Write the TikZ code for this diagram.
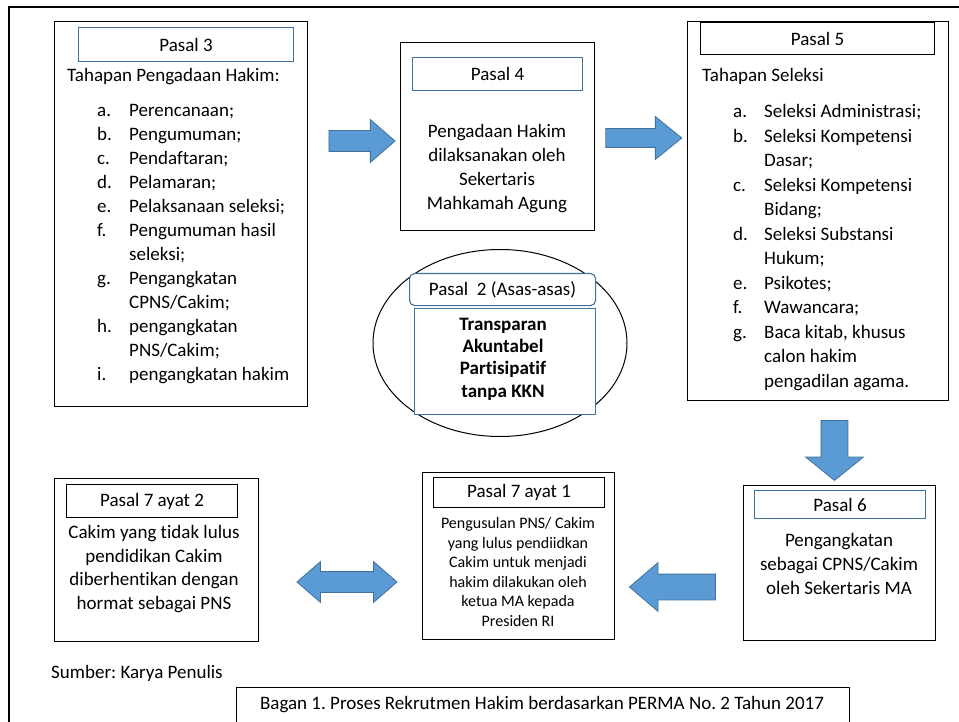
\documentclass[tikz,border=0pt]{standalone}
\usepackage{fontspec}
\setmainfont{Carlito}[Ligatures=NoCommon]
\usetikzlibrary{shapes.arrows,shapes.geometric,positioning}
\definecolor{boxblue}{RGB}{65,113,156}
\definecolor{arrowfill}{RGB}{91,155,213}
\frenchspacing

\begin{document}
\begin{tikzpicture}[x=1pt,y=-1pt,font=\fontsize{19}{24}\selectfont]
        \tikzstyle{outerblock}=[rectangle, draw, line width=1.3pt, inner sep=0pt, anchor=north west]
        \tikzstyle{titleblock}=[rectangle, draw, line width=1.1pt, inner sep=0pt, anchor=north west]
        \tikzstyle{titleblue}=[titleblock, draw=boxblue]
        \tikzstyle{fatarrow}=[single arrow, draw=boxblue, fill=arrowfill, line width=0.8pt, inner xsep=0pt]
        \useasboundingbox (0,0) rectangle (959,722);
        \clip (0,0) rectangle (959,722);
        \draw[line width=1.5pt] (9,7) rectangle (990,760);
        % Pasal 3
        \node[outerblock, minimum width=253pt, minimum height=385pt] (p3) at (54,21) {};
        \node[titleblue, minimum width=215pt, minimum height=34pt] (p3t) at (78,27) {Pasal 3};
        \node[anchor=base west, inner sep=0pt] (p3h) at (67,82) {Tahapan Pengadaan Hakim:};
        \node[anchor=base west, inner sep=0pt] (p3list) at (97,117) {\begin{tabular}[t]{@{}p{32pt}@{}l@{}}
            a. & Perencanaan;\\
            b. & Pengumuman;\\
            c. & Pendaftaran;\\
            d. & Pelamaran;\\
            e. & Pelaksanaan seleksi;\\
            f. & Pengumuman hasil\\
               & seleksi;\\
            g. & Pengangkatan\\
               & CPNS/Cakim;\\
            h. & pengangkatan\\
               & PNS/Cakim;\\
            i. & pengangkatan hakim
          \end{tabular}};
        % Pasal 4
        \node[outerblock, minimum width=194pt, minimum height=188pt] (p4) at (400,42) {};
        \node[titleblue, minimum width=170pt, minimum height=33pt] (p4t) at (412,57) {Pasal 4};
        \node[align=center, inner sep=0pt] (p4txt) at (497,169) {Pengadaan Hakim\\dilaksanakan oleh\\Sekertaris\\Mahkamah Agung};
        % Pasal 5
        \node[outerblock, minimum width=261pt, minimum height=379pt] (p5) at (687,21) {};
        \node[titleblock, minimum width=234pt, minimum height=32pt] (p5t) at (700,22) {Pasal 5};
        \node[anchor=base west, inner sep=0pt] (p5h) at (702,82) {Tahapan Seleksi};
        \node[anchor=base west, inner sep=0pt, font=\fontsize{19}{24.5}\selectfont] (p5list) at (733,118) {\begin{tabular}[t]{@{}p{31pt}@{}l@{}}
            a. & Seleksi Administrasi;\\
            b. & Seleksi Kompetensi\\
               & Dasar;\\
            c. & Seleksi Kompetensi\\
               & Bidang;\\
            d. & Seleksi Substansi\\
               & Hukum;\\
            e. & Psikotes;\\
            f. & Wawancara;\\
            g. & Baca kitab, khusus\\
               & calon hakim\\
               & pengadilan agama.
          \end{tabular}};
        % Pasal 2
        \node[draw, ellipse, line width=1pt, inner sep=0pt, minimum width=254pt, minimum height=187pt] (asas) at (500,343) {};
        \node[titleblue, rounded corners=5pt, fill=white, minimum width=186pt, minimum height=32pt] (p2t) at (409,273) {Pasal~ 2 (Asas-asas)};
        \node[titleblue, fill=white, minimum width=181pt, minimum height=106pt] (p2) at (414,308) {};
        \node[align=center, inner sep=0pt, font=\fontsize{19}{22.3}\selectfont\bfseries] (p2txt) at (503,359) {Transparan\\Akuntabel\\Partisipatif\\tanpa KKN};
        % Pasal 6
        \node[outerblock, minimum width=192pt, minimum height=155pt] (p6) at (743,485) {};
        \node[titleblue, minimum width=171pt, minimum height=28pt] (p6t) at (754,490) {Pasal 6};
        \node[align=center, inner sep=0pt] (p6txt) at (839,564) {Pengangkatan\\sebagai CPNS/Cakim\\oleh Sekertaris MA};
        % Pasal 7 ayat 1
        \node[outerblock, minimum width=192pt, minimum height=167pt] (p71) at (422,472) {};
        \node[titleblock, minimum width=171pt, minimum height=30pt] (p71t) at (433,477) {Pasal 7 ayat 1};
        \node[align=center, inner sep=0pt, font=\fontsize{16}{19.6}\selectfont] (p71txt) at (518,572) {Pengusulan PNS/ Cakim\\yang lulus pendiidkan\\Cakim untuk menjadi\\hakim dilakukan oleh\\ketua MA kepada\\Presiden RI};
        % Pasal 7 ayat 2
        \node[outerblock, minimum width=204pt, minimum height=163pt] (p72) at (54,478) {};
        \node[titleblock, minimum width=171pt, minimum height=33pt] (p72t) at (66,484) {Pasal 7 ayat 2};
        \node[align=center, inner sep=0pt, font=\fontsize{19}{23.7}\selectfont] (p72txt) at (154,569) {Cakim yang tidak lulus\\pendidikan Cakim\\diberhentikan dengan\\hormat sebagai PNS};
        % block arrows
        \node[fatarrow, minimum height=66pt, inner ysep=10pt, single arrow head extend=11pt, single arrow tip angle=82] (a34) at (356,141) {};
        \node[fatarrow, minimum height=76pt, inner ysep=9pt, single arrow head extend=12pt, single arrow tip angle=78] (a45) at (638,138) {};
        \node[fatarrow, rotate=-90, minimum height=60pt, inner ysep=13pt, single arrow head extend=15.5pt, single arrow tip angle=102] (a56) at (834.5,445) {};
        \node[fatarrow, rotate=180, minimum height=86pt, inner ysep=12.5pt, single arrow head extend=11.5pt, single arrow tip angle=81] (a671) at (680,587) {};
        \node[double arrow, draw=boxblue, fill=arrowfill, line width=0.8pt, inner xsep=0pt, minimum height=100pt, inner ysep=10pt, double arrow head extend=10pt, double arrow tip angle=82] (a7172) at (347,582) {};
        % source and caption
        \node[anchor=west, inner sep=0pt] (src) at (51,673) {Sumber: Karya Penulis};
        \node[outerblock, line width=1.2pt, minimum width=613pt, minimum height=80pt] (capbox) at (236,687) {};
        \node[inner sep=0pt] (cap) at (542,705) {Bagan 1. Proses Rekrutmen Hakim berdasarkan PERMA No. 2 Tahun 2017};
      \end{tikzpicture}
\end{document}
